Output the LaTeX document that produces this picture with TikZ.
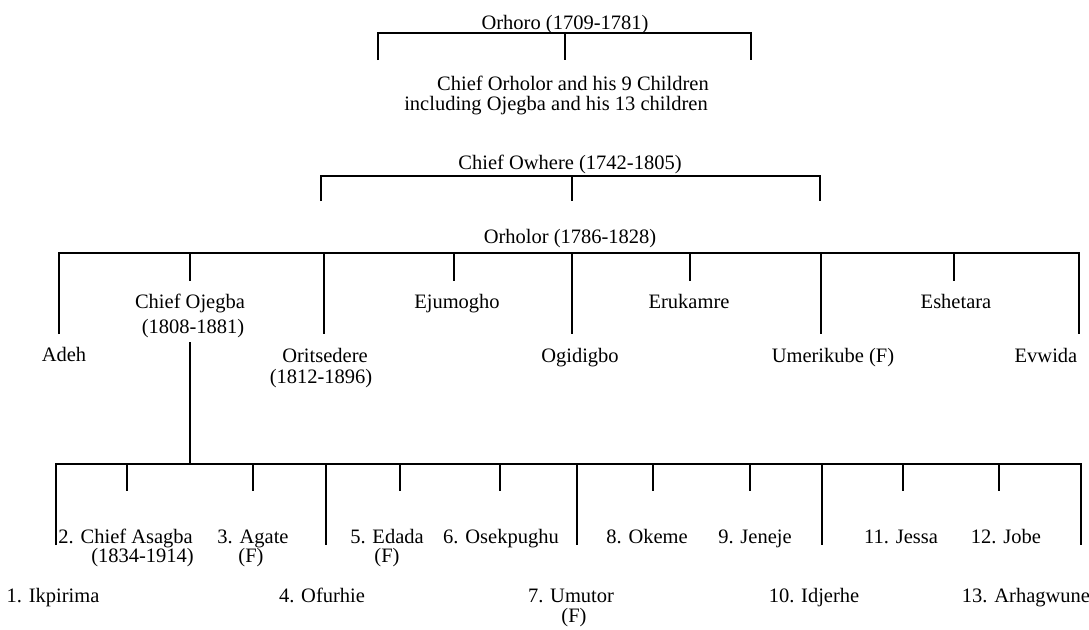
\documentclass[tikz,border=0pt]{standalone}
\usepackage{fontspec}
\setmainfont{Liberation Serif}
\begin{document}
\begin{tikzpicture}[x=1pt,y=-1pt,
  lbl/.style={anchor=base, inner sep=0pt, font=\fontsize{20.5}{20}\selectfont},
  lble/.style={lbl, anchor=base east},
  link/.style={line width=1.3pt}]
\useasboundingbox (0,0) rectangle (1089,629);

% ---------- texts ----------
\node[lbl] (orhoro) at (565,29) {Orhoro (1709-1781)};
\node[lbl] (note1) at (573,90) {Chief Orholor and his 9 Children};
\node[lbl] (note2) at (556,110) {including Ojegba and his 13 children};
\node[lbl] (owhere) at (570,169) {Chief Owhere (1742-1805)};
\node[lbl] (orholor) at (570,243) {Orholor (1786-1828)};

\node[lbl] (adeh) at (64,361) {Adeh};
\node[lbl] (ojegba) at (190,308) {Chief Ojegba};
\node[lbl] (ojegbad) at (193,333) {(1808-1881)};
\node[lbl] (oritsedere) at (325,362) {Oritsedere};
\node[lbl] (oritsedered) at (321,383) {(1812-1896)};
\node[lbl] (ejumogho) at (457,308) {Ejumogho};
\node[lbl] (ogidigbo) at (580,362) {Ogidigbo};
\node[lbl] (erukamre) at (689,308) {Erukamre};
\node[lbl] (umerikube) at (833,362) {Umerikube (F)};
\node[lbl] (eshetara) at (956,308) {Eshetara};
\node[lbl] (evwida) at (1046,362) {Evwida};

\node[lbl] (c1) at (53,602) {1. Ikpirima};
\node[lble] (c2) at (193,543) {2. Chief Asagba};
\node[lble] (c2d) at (194,562) {(1834-1914)};
\node[lbl] (c3) at (253,543) {3. Agate};
\node[lbl] (c3d) at (251,562) {(F)};
\node[lbl] (c4) at (322,602) {4. Ofurhie};
\node[lbl] (c5) at (387,543) {5. Edada};
\node[lbl] (c5d) at (387,562) {(F)};
\node[lbl] (c6) at (501,543) {6. Osekpughu};
\node[lbl] (c7) at (571,602) {7. Umutor};
\node[lbl] (c7d) at (574,622) {(F)};
\node[lbl] (c8) at (647,543) {8. Okeme};
\node[lbl] (c9) at (755,543) {9. Jeneje};
\node[lbl] (c10) at (814,602) {10. Idjerhe};
\node[lbl] (c11) at (901,543) {11. Jessa};
\node[lbl] (c12) at (1006,543) {12. Jobe};
\node[lbl] (c13) at (1026,602) {13. Arhagwune};

% ---------- bracket under Orhoro ----------
\foreach \n/\x in {a/378,b/565,c/751}{
  \coordinate (A\n) at (\x,33); \coordinate (A\n-d) at (\x,60);}
\draw[link] (Aa-d) -- (Aa) -- (Ac) -- (Ac-d);
\draw[link] (Ab) -- (Ab-d);

% ---------- bracket under Chief Owhere ----------
\foreach \n/\x in {a/321,b/572,c/820}{
  \coordinate (B\n) at (\x,176); \coordinate (B\n-d) at (\x,201);}
\draw[link] (Ba-d) -- (Ba) -- (Bc) -- (Bc-d);
\draw[link] (Bb) -- (Bb-d);

% ---------- bar under Orholor ----------
\foreach \n/\x in {1/59,3/324,5/572,7/821,9/1079}{
  \coordinate (M\n) at (\x,253); \coordinate (M\n-d) at (\x,334);}
\foreach \n/\x in {2/190,4/454,6/690,8/954}{
  \coordinate (M\n) at (\x,253); \coordinate (M\n-d) at (\x,281);}
\draw[link] (M1-d) -- (M1) -- (M9) -- (M9-d);
\foreach \n in {2,...,8}{ \draw[link] (M\n) -- (M\n-d); }

% ---------- Ojegba's line ----------
\coordinate (oj-top) at (190,342);
\coordinate (oj-bot) at (190,464);
\draw[link] (oj-top) -- (oj-bot);

% ---------- bar over Ojegba's children ----------
\foreach \n/\x in {1/56,4/326,7/577,10/822,13/1081}{
  \coordinate (L\n) at (\x,464); \coordinate (L\n-d) at (\x,545);}
\foreach \n/\x in {2/127,3/253,5/400,6/500,8/653,9/750,11/903,12/999}{
  \coordinate (L\n) at (\x,464); \coordinate (L\n-d) at (\x,491);}
\draw[link] (L1-d) -- (L1) -- (L13) -- (L13-d);
\foreach \n in {2,...,12}{ \draw[link] (L\n) -- (L\n-d); }
\end{tikzpicture}
\end{document}
